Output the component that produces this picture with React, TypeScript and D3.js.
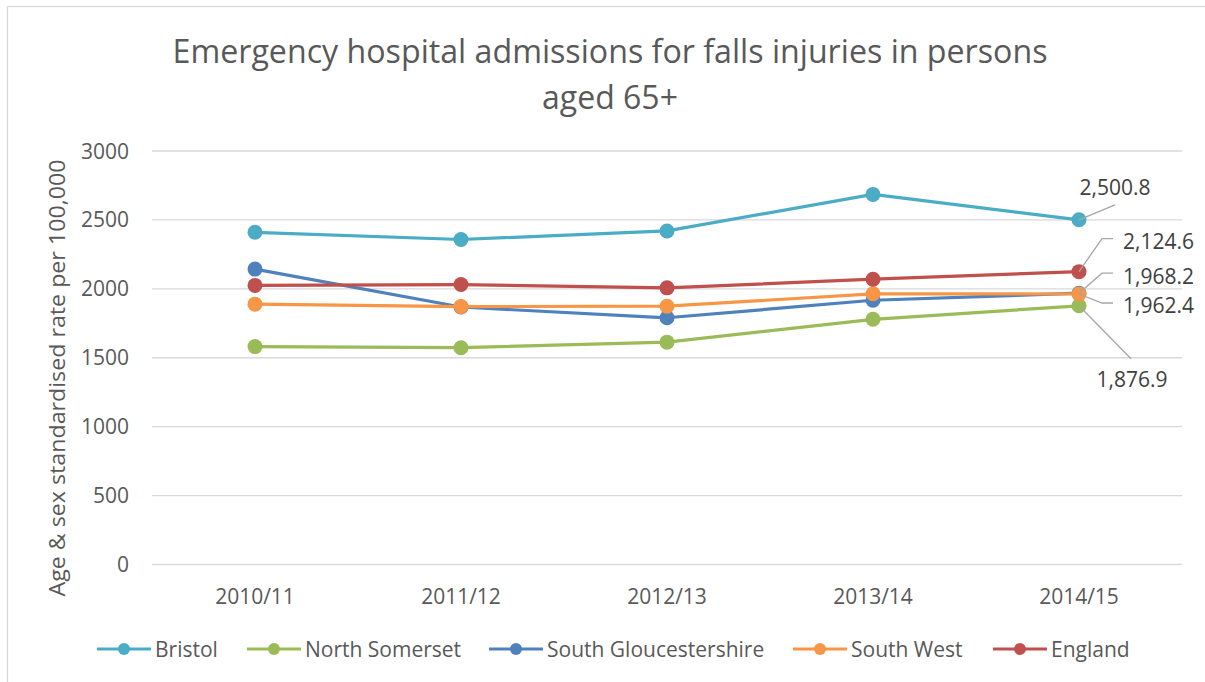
import { useEffect, useRef } from 'react';
import * as d3 from 'd3';

const years = ['2010/11', '2011/12', '2012/13', '2013/14', '2014/15'];
const seriesNames = ['Bristol', 'North Somerset', 'South Gloucestershire', 'South West', 'England'];
const seriesColors = ['#4BACC6', '#9BBB59', '#4F81BD', '#F79646', '#C0504D'];

const bristol = [2410, 2358, 2420, 2685, 2500.8];
const northSomerset = [1581, 1573, 1613, 1779, 1876.9];
const southGlos = [2143, 1868, 1790, 1917, 1968.2];
const southWest = [1889, 1871, 1874, 1964, 1962.4];
const england = [2025, 2031, 2007, 2070, 2124.6];

const yTicks = [0, 500, 1000, 1500, 2000, 2500, 3000];

// label placement for the last point: elbow and end of the leader, text position
const labelLayout = [
  { elbow: [36, -15], end: [36, -15], text: [36, -32], anchor: 'middle' },
  { elbow: [52, 53], end: [52, 53], text: [53, 74], anchor: 'middle' },
  { elbow: [23, -20], end: [34, -20], text: [44, -17], anchor: 'start' },
  { elbow: [23, 9], end: [34, 9], text: [44, 11], anchor: 'start' },
  { elbow: [23, -33], end: [34, -33], text: [44, -30], anchor: 'start' },
];

const W = 1205;
const H = 682;
const FONT = '"Open Sans", "Noto Sans", sans-serif';
const TEXT = '#595959';

export default function App() {
  const svgRef = useRef<SVGSVGElement>(null);

  useEffect(() => {
    const svg = d3.select(svgRef.current);
    svg.selectAll('*').remove();

    const values = [bristol, northSomerset, southGlos, southWest, england];

    const x = d3.scaleBand().domain(years).range([152, 1182]);
    const y = d3.scaleLinear().domain([0, 3000]).range([564.5, 151]);
    const cx = (d: string) => (x(d) as number) + x.bandwidth() / 2;

    svg.append('rect')
      .attr('x', 7.5).attr('y', 6.5)
      .attr('width', W + 10).attr('height', H + 10)
      .attr('fill', 'white').attr('stroke', '#D9D9D9').attr('stroke-width', 1.3);

    // title
    svg.append('text')
      .attr('x', 610).attr('y', 63)
      .attr('text-anchor', 'middle')
      .attr('font-family', FONT).attr('font-size', 32).attr('fill', TEXT)
      .attr('textLength', 875).attr('lengthAdjust', 'spacingAndGlyphs')
      .text('Emergency hospital admissions for falls injuries in persons');
    svg.append('text')
      .attr('x', 610).attr('y', 109)
      .attr('text-anchor', 'middle')
      .attr('font-family', FONT).attr('font-size', 32).attr('fill', TEXT)
      .text('aged 65+');

    // gridlines
    svg.append('g').selectAll('line')
      .data(yTicks)
      .join('line')
      .attr('x1', 152).attr('x2', 1182)
      .attr('y1', d => y(d)).attr('y2', d => y(d))
      .attr('stroke', '#D9D9D9').attr('stroke-width', 1.3);

    // y tick labels
    svg.append('g').selectAll('text')
      .data(yTicks)
      .join('text')
      .attr('x', 129).attr('y', d => y(d))
      .attr('dy', '0.36em')
      .attr('text-anchor', 'end')
      .attr('font-family', FONT).attr('font-size', 21).attr('fill', TEXT)
      .text(d => d);

    // x tick labels
    svg.append('g').selectAll('text')
      .data(years)
      .join('text')
      .attr('x', d => cx(d)).attr('y', 604)
      .attr('text-anchor', 'middle')
      .attr('font-family', FONT).attr('font-size', 21).attr('fill', TEXT)
      .text(d => d);

    // y axis title
    svg.append('text')
      .attr('transform', 'translate(65,378) rotate(-90)')
      .attr('text-anchor', 'middle')
      .attr('font-family', FONT).attr('font-size', 22).attr('fill', TEXT)
      .attr('textLength', 437).attr('lengthAdjust', 'spacingAndGlyphs')
      .text('Age & sex standardised rate per 100,000');

    const line = d3.line<number>()
      .x((_, i) => cx(years[i]))
      .y(d => y(d));

    values.forEach((vals, s) => {
      const g = svg.append('g');
      g.append('path')
        .datum(vals)
        .attr('d', line)
        .attr('fill', 'none')
        .attr('stroke', seriesColors[s])
        .attr('stroke-width', 3.2)
        .attr('stroke-linejoin', 'round');
      g.selectAll('circle')
        .data(vals)
        .join('circle')
        .attr('cx', (_, i) => cx(years[i]))
        .attr('cy', d => y(d))
        .attr('r', 7.5)
        .attr('fill', seriesColors[s]);
    });

    // data labels on the last year
    values.forEach((vals, s) => {
      const v = vals[vals.length - 1];
      const px = cx(years[years.length - 1]);
      const py = y(v);
      const l = labelLayout[s];
      svg.append('polyline')
        .attr('points', `${px},${py} ${px + l.elbow[0]},${py + l.elbow[1]} ${px + l.end[0]},${py + l.end[1]}`)
        .attr('fill', 'none')
        .attr('stroke', '#A6A6A6')
        .attr('stroke-width', 1.3);
      svg.append('text')
        .attr('x', px + l.text[0]).attr('y', py + l.text[1])
        .attr('dy', '0.36em')
        .attr('text-anchor', l.anchor)
        .attr('font-family', FONT).attr('font-size', 21).attr('fill', '#404040')
        .text(d3.format(',.1f')(v));
    });

    // legend
    const legendX = [97, 247, 489, 793, 993];
    const lg = svg.append('g').attr('transform', 'translate(0,649)');
    seriesNames.forEach((name, s) => {
      const item = lg.append('g').attr('transform', `translate(${legendX[s]},0)`);
      item.append('line')
        .attr('x1', 0).attr('x2', 54)
        .attr('stroke', seriesColors[s]).attr('stroke-width', 3.2);
      item.append('circle')
        .attr('cx', 27).attr('r', 6)
        .attr('fill', seriesColors[s]);
      item.append('text')
        .attr('x', 58).attr('dy', '0.36em')
        .attr('font-family', FONT).attr('font-size', 21).attr('fill', TEXT)
        .text(name);
    });
  }, []);

  return (
    <svg
      ref={svgRef}
      width={W}
      height={H}
      style={{ position: 'absolute', left: 0, top: 0, background: 'white' }}
    />
  );
}
